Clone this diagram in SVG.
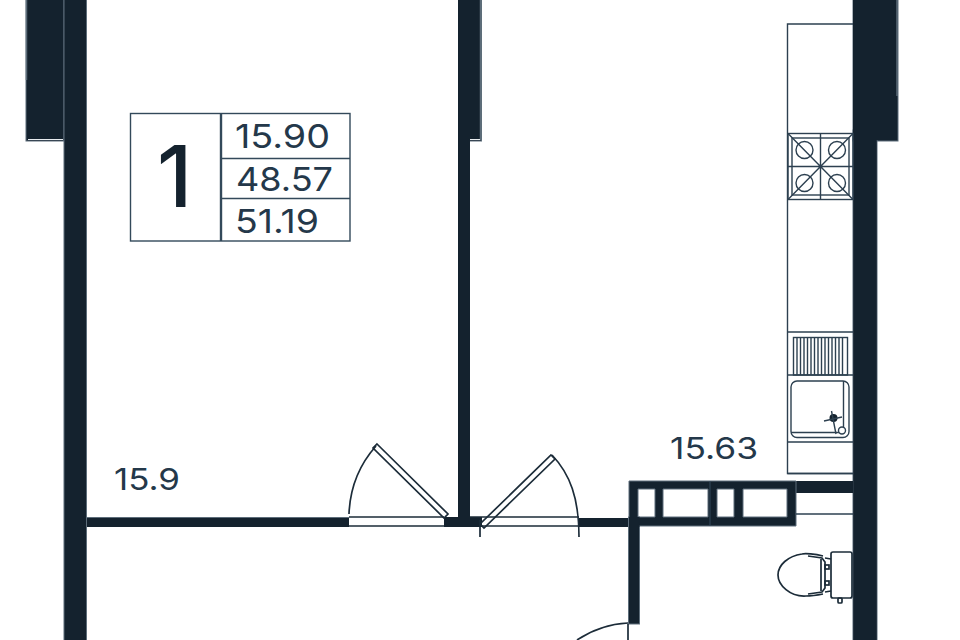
<svg xmlns="http://www.w3.org/2000/svg" width="960" height="640" viewBox="0 0 960 640">
<style>
.w{fill:#14222e;stroke:#5d6d7a;stroke-width:1}
.f{fill:#14222e}
.g{fill:none;stroke:#5d6d7a;stroke-width:1.500}
.l{fill:none;stroke:#1c2c39;stroke-width:1.700}
.t{stroke:#2d4050;stroke-width:1.400;fill:none}
.n{font-family:Inter,"Liberation Sans",sans-serif;fill:#24384a}
</style>
<rect width="960" height="640" fill="#fff"/>
<g id="walls">
<rect class="w" x="26" y="-2" width="38" height="143"/>
<rect class="w" x="64" y="-2" width="22.500" height="644"/>
<path d="M28 139.500H63" stroke="#e8ecef" stroke-width="1"/>
<path class="g" d="M26.500 0V80"/>
<rect class="w" x="458.500" y="-2" width="23" height="143"/>
<path d="M458 -2H479V139H470V527H458Z" class="f"/>
<path class="g" d="M480.500 0V140"/>
<path d="M470 139.500H480" stroke="#e8ecef" stroke-width="1"/>
<rect class="w" x="853" y="-2" width="45" height="143"/>
<rect class="w" x="853" y="130" width="24" height="512"/>
<rect class="f" x="853" y="-2" width="44" height="142"/>
<rect class="f" x="853.500" y="120" width="23" height="522"/>
<path class="g" d="M897 0V96"/>
<rect class="f" x="87" y="517" width="262" height="10"/>
<path d="M87 517.500H349" stroke="#5d6d7a" stroke-width="1"/>
<rect class="f" x="444" y="517" width="38" height="10"/>
<rect class="f" x="579" y="518" width="50" height="9"/>
<rect class="w" x="628.500" y="517" width="11" height="107"/>
<path class="f" d="M796 481H853V493H796Z"/>
</g>
<g id="vent">
<path class="w" fill-rule="evenodd" d="M629 481H796V526H629ZM638 489V517H655V489ZM663 489V517H708V489ZM717 489V517H734V489ZM743 489V517H787V489Z"/>
<path d="M710 481V526" stroke="#33495a" stroke-width="1"/>
<rect class="f" x="629" y="517" width="10.500" height="10"/>
</g>
<g id="door-room">
<path class="l" d="M349 517H444M349 526H444"/>
<path class="l" d="M349 514C350 488 360 464 376 446"/>
<path class="l" d="M377 444L448 514L444 518L373 448Z"/>
</g>
<g id="door-kitchen">
<path class="l" d="M470 517H579M482 526H579"/>
<path class="l" d="M552 455C570 474 579 498 579 537M480 520V537"/>
<path class="l" d="M551 455L555 459L484 528L480 524Z"/>
</g>
<g id="door-bath">
<path class="l" d="M628 624V640M577 640C592 630 608 624 628 623"/>
</g>
<g id="kitchen">
<path class="t" d="M853 24H787.500V473.500H853"/>
<path class="t" stroke-width="2" d="M787.500 473.500H853"/>
<path class="t" d="M853 332H787.500M853 375H787.500M853 442H787.500"/>
</g>
<g id="hob">
<rect class="t" x="788" y="133.500" width="65" height="66"/>
<rect class="t" x="792" y="138" width="57" height="57"/>
<path class="t" d="M788 133.500L853 199.500M853 133.500L788 199.500M820.500 133.500V199.500M788 166.500H853"/>
<circle class="t" cx="804.500" cy="150" r="8.500"/>
<circle class="t" cx="837" cy="150" r="8.500"/>
<circle class="t" cx="804.500" cy="183" r="8.500"/>
<circle class="t" cx="837" cy="183" r="8.500"/>
</g>
<g id="sink">
<rect class="t" x="793.500" y="337.500" width="54" height="37.500"/>
<path class="t" stroke-width="1.200" d="M797 337V375M800.500 337V375M804 337V375M807.500 337V375M811 337V375M814.500 337V375M818 337V375M821.500 337V375M825 337V375M828.500 337V375M832 337V375M835.500 337V375M839 337V375M842.500 337V375"/>
<rect class="t" x="791" y="381" width="58" height="56.500" rx="6"/>
<path class="t" d="M843.500 381V432.500H791"/>
<circle class="f" cx="833.500" cy="418" r="4"/>
<path class="t" d="M824 421L842 417M831.500 411L836 434"/>
<circle cx="842" cy="430.500" r="3.500" fill="#fff" stroke="#2d4050" stroke-width="1.400"/>
</g>
<g id="toilet">
<path class="t" d="M796 514H853"/>
<rect class="l" x="831" y="552" width="21" height="46" rx="2"/>
<path class="l" d="M823 556C815 554 805 553 802 554C788 556 778 565 778 575C778 585 790 597 806 596C812 596 818 595 823 594M808 556L822 558L825 562V588L822 592L808 594M821 559V591M825 558L831 559M825 592L831 591"/>
<rect class="l" x="825" y="565" width="4" height="4"/>
<rect class="l" x="825" y="581" width="4" height="4"/>
<rect class="l" x="838" y="598" width="4" height="5" rx="1"/>
</g>
<g id="table">
<rect x="130.500" y="113.500" width="219.500" height="127.500" fill="none" stroke="#33495a" stroke-width="1.400"/>
<path d="M221 113V241" stroke="#33495a" stroke-width="2.400"/>
<path d="M221 158.500H350M221 198.500H350" stroke="#33495a" stroke-width="1.500"/>
<text x="157" y="207" font-size="85" font-weight="500" class="n" style="fill:#14222e">1</text>
<text x="235" y="148" font-size="33" class="n" textLength="95" lengthAdjust="spacingAndGlyphs">15.90</text>
<text x="236" y="191" font-size="33" class="n" textLength="97" lengthAdjust="spacingAndGlyphs">48.57</text>
<text x="235" y="233" font-size="33" class="n" textLength="84" lengthAdjust="spacingAndGlyphs">51.19</text>
</g>
<g id="labels">
<text x="670" y="459" font-size="30" class="n" textLength="88" lengthAdjust="spacingAndGlyphs">15.63</text>
<text x="114" y="490" font-size="30" class="n" textLength="66" lengthAdjust="spacingAndGlyphs">15.9</text>
</g>
</svg>
